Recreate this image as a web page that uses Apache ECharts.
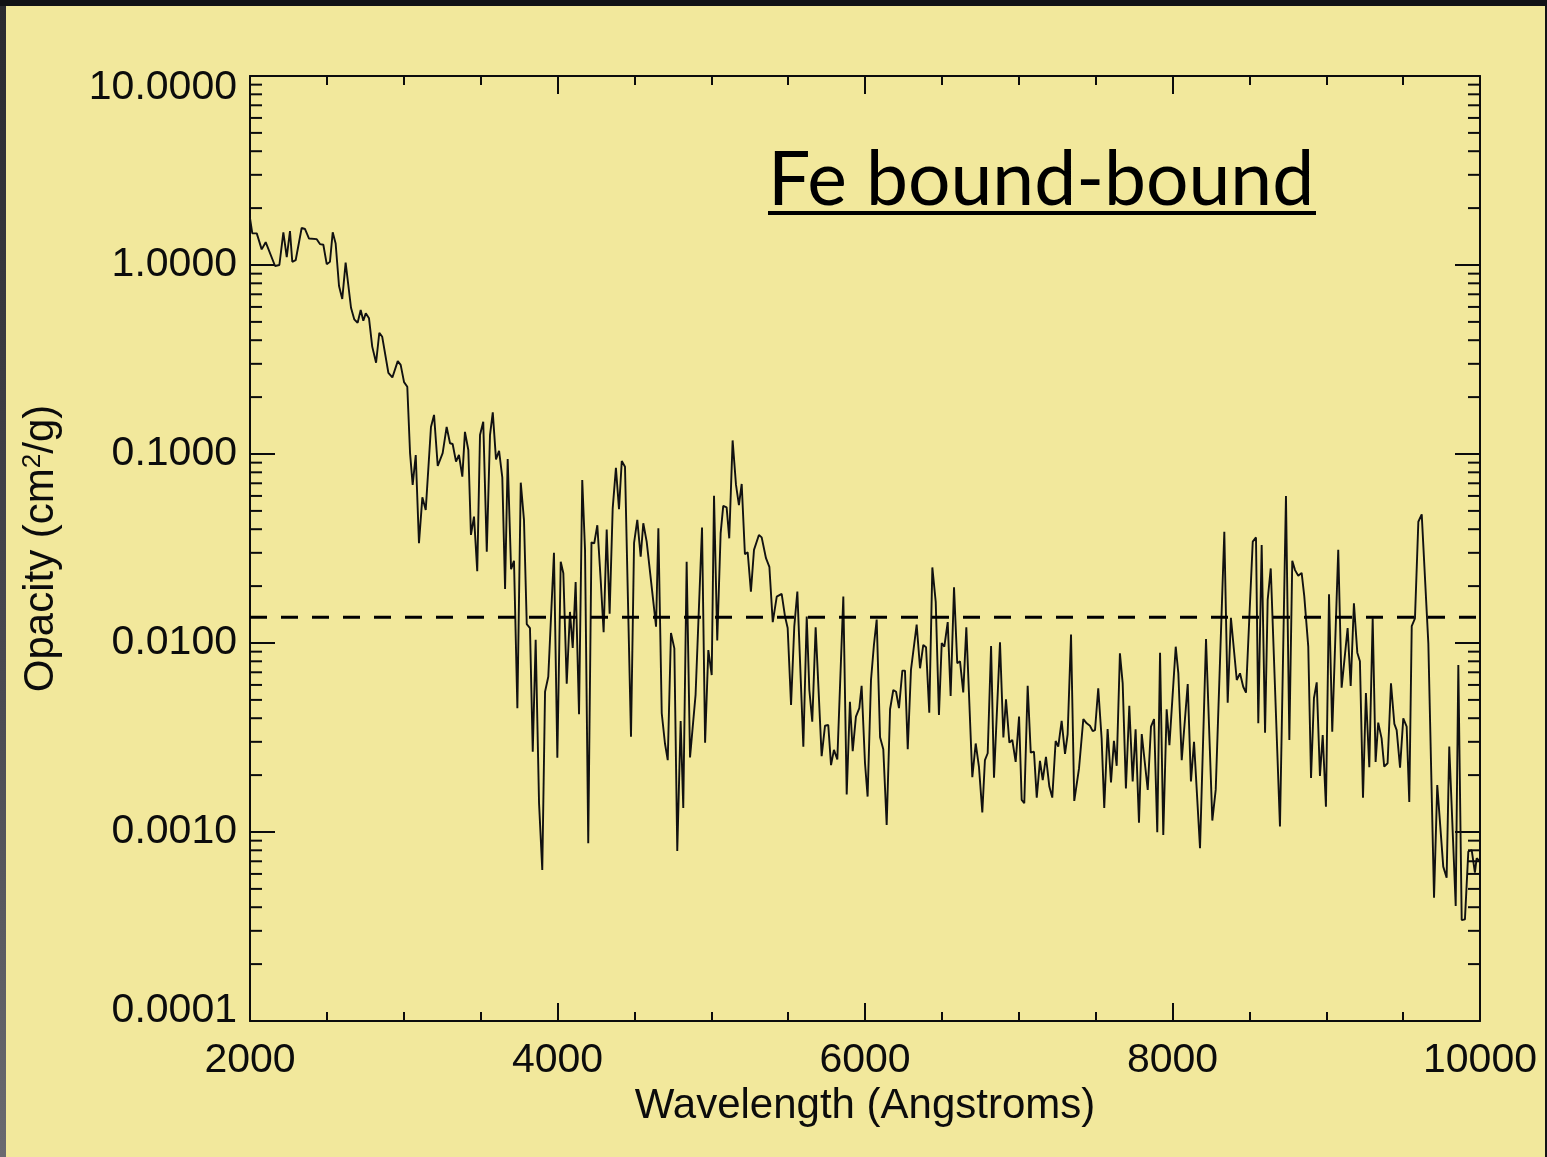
<!DOCTYPE html>
<html>
<head>
<meta charset="utf-8">
<title>Fe bound-bound opacity</title>
<script src="https://cdn.jsdelivr.net/npm/echarts@6/dist/echarts.min.js"></script>
<style>
  html, body { margin: 0; padding: 0; width: 1547px; height: 1157px; overflow: hidden; background: #121216; }
  #edge { position: absolute; left: 0; top: 6px; width: 6px; height: 1151px; background: linear-gradient(#2a2a30, #4a4a52 60%, #6a6a70); }
  #chart { position: absolute; left: 6px; top: 6px; width: 1539px; height: 1151px; background: #F2E89C; }
</style>
</head>
<body>
<div id="edge"></div>
<div id="chart"></div>
<script>
// Wavelength grid (Angstroms)
const wavelength = [
  2000, 2015, 2044, 2076, 2102, 2163, 2191, 2217, 2239, 2260, 2275, 2297, 2336, 2358, 2384, 2434, 2455, 2477, 2499, 2520,
  2538, 2557, 2579, 2600, 2622, 2657, 2678, 2700, 2720, 2737, 2753, 2774, 2795, 2820, 2841, 2860, 2900, 2926, 2939, 2961,
  2980, 3002, 3023, 3041, 3058, 3078, 3099, 3121, 3143, 3177, 3197, 3221, 3253, 3279, 3301, 3318, 3340, 3359, 3381, 3398,
  3420, 3437, 3457, 3478, 3496, 3517, 3540, 3561, 3579, 3600, 3620, 3641, 3659, 3676, 3698, 3717, 3739, 3761, 3782, 3800,
  3821, 3839, 3858, 3880, 3901, 3919, 3940, 3977, 3999, 4021, 4038, 4060, 4081, 4099, 4118, 4140, 4161, 4179, 4200, 4221,
  4239, 4259, 4281, 4300, 4320, 4339, 4359, 4380, 4400, 4418, 4439, 4478, 4498, 4519, 4541, 4558, 4580, 4634, 4641, 4656,
  4678, 4699, 4717, 4738, 4760, 4779, 4801, 4818, 4840, 4862, 4898, 4940, 4960, 4981, 5003, 5018, 5039, 5061, 5078, 5100,
  5117, 5139, 5161, 5180, 5198, 5219, 5237, 5258, 5278, 5310, 5328, 5356, 5378, 5400, 5426, 5458, 5480, 5497, 5519, 5540,
  5560, 5599, 5621, 5638, 5657, 5679, 5718, 5740, 5761, 5779, 5798, 5820, 5859, 5881, 5902, 5920, 5941, 5963, 5978, 6000,
  6017, 6039, 6058, 6076, 6098, 6119, 6141, 6163, 6184, 6202, 6221, 6243, 6260, 6278, 6299, 6336, 6358, 6379, 6397, 6418,
  6438, 6460, 6481, 6499, 6516, 6538, 6557, 6579, 6600, 6618, 6639, 6659, 6698, 6720, 6741, 6763, 6780, 6798, 6820, 6839,
  6878, 6900, 6917, 6939, 6958, 6980, 7002, 7019, 7036, 7058, 7078, 7099, 7117, 7138, 7156, 7177, 7199, 7218, 7240, 7257,
  7279, 7301, 7318, 7340, 7361, 7392, 7420, 7442, 7463, 7481, 7496, 7517, 7539, 7556, 7578, 7600, 7619, 7637, 7658, 7676,
  7697, 7719, 7741, 7760, 7782, 7800, 7839, 7860, 7880, 7901, 7919, 7940, 7962, 7980, 8021, 8038, 8060, 8099, 8120, 8140,
  8179, 8218, 8259, 8281, 8337, 8359, 8380, 8418, 8439, 8460, 8478, 8499, 8522, 8543, 8558, 8580, 8602, 8619, 8639, 8699,
  8738, 8760, 8779, 8797, 8818, 8840, 8857, 8883, 8901, 8920, 8938, 8959, 8977, 8998, 9018, 9039, 9078, 9100, 9139, 9159,
  9180, 9202, 9219, 9239, 9258, 9280, 9302, 9321, 9338, 9360, 9377, 9399, 9421, 9443, 9458, 9480, 9501, 9523, 9540, 9556,
  9577, 9599, 9621, 9664, 9701, 9722, 9761, 9783, 9800, 9842, 9859, 9881, 9902, 9924, 9946, 9967, 9978, 10000
];

// Fe bound-bound opacity (cm^2/g) at each wavelength
const opacity = [
  1.77, 1.47, 1.47, 1.21, 1.32, 0.988, 1.00, 1.49, 1.10, 1.51, 1.04, 1.06, 1.57, 1.55, 1.38, 1.37, 1.29, 1.28, 1.01, 1.04,
  1.49, 1.30, 0.774, 0.661, 1.03, 0.594, 0.516, 0.495, 0.578, 0.507, 0.555, 0.522, 0.370, 0.304, 0.438, 0.417, 0.269, 0.254, 0.260, 0.310,
  0.296, 0.240, 0.227, 0.101, 0.0686, 0.0988, 0.0337, 0.0590, 0.0506, 0.139, 0.161, 0.0864, 0.101, 0.139, 0.114, 0.113, 0.0911, 0.0988, 0.0759, 0.131,
  0.105, 0.0373, 0.0466, 0.0240, 0.126, 0.148, 0.0304, 0.126, 0.166, 0.0937, 0.104, 0.0753, 0.0193, 0.0941, 0.0246, 0.0272, 0.00452, 0.0705, 0.0448, 0.0126,
  0.0120, 0.00266, 0.0104, 0.00142, 0.000629, 0.00552, 0.00663, 0.0300, 0.00247, 0.0269, 0.0234, 0.00609, 0.0146, 0.00941, 0.0210, 0.00420, 0.0728, 0.0311, 0.000871, 0.0341,
  0.0337, 0.0420, 0.0215, 0.0114, 0.0398, 0.0143, 0.0516, 0.0846, 0.0510, 0.0918, 0.0857, 0.00319, 0.0339, 0.0448, 0.0286, 0.0430, 0.0344, 0.0138, 0.0122, 0.0405,
  0.00425, 0.00294, 0.00240, 0.0113, 0.00937, 0.000793, 0.00387, 0.00134, 0.0269, 0.00248, 0.00531, 0.0408, 0.00297, 0.00918, 0.00677, 0.0602, 0.0103, 0.0380, 0.0531, 0.0522,
  0.0358, 0.118, 0.0686, 0.0537, 0.0694, 0.0295, 0.0302, 0.0187, 0.0311, 0.0373, 0.0362, 0.0281, 0.0253, 0.0129, 0.0176, 0.0182, 0.0138, 0.0120, 0.00470, 0.0122,
  0.0187, 0.00283, 0.0138, 0.00564, 0.00383, 0.0121, 0.00252, 0.00365, 0.00368, 0.00226, 0.00272, 0.00242, 0.0176, 0.00158, 0.00489, 0.00268, 0.00408, 0.00452, 0.00594, 0.00231,
  0.00154, 0.00637, 0.00976, 0.0133, 0.00317, 0.00274, 0.00109, 0.00446, 0.00564, 0.00552, 0.00452, 0.00714, 0.00714, 0.00274, 0.00720, 0.0125, 0.00735, 0.00976, 0.00949, 0.00428,
  0.0251, 0.0165, 0.00416, 0.0100, 0.00956, 0.0129, 0.00524, 0.0197, 0.00781, 0.00800, 0.00548, 0.0121, 0.00195, 0.00294, 0.00222, 0.00127, 0.00240, 0.00261, 0.00964, 0.00194,
  0.0101, 0.00316, 0.00504, 0.00297, 0.00307, 0.00235, 0.00408, 0.00148, 0.00142, 0.00594, 0.00263, 0.00266, 0.00152, 0.00238, 0.00188, 0.00250, 0.00174, 0.00152, 0.00303, 0.00283,
  0.00387, 0.00259, 0.00329, 0.0111, 0.00146, 0.00217, 0.00396, 0.00376, 0.00365, 0.00342, 0.00346, 0.00576, 0.00313, 0.00134, 0.00351, 0.00183, 0.00304, 0.00224, 0.00882, 0.00612,
  0.00170, 0.00466, 0.00185, 0.00349, 0.00112, 0.00330, 0.00167, 0.00361, 0.00396, 0.000996, 0.00889, 0.000964, 0.00446, 0.00288, 0.00956, 0.00691, 0.00240, 0.00607, 0.00185, 0.00300,
  0.000820, 0.0105, 0.00115, 0.00167, 0.0388, 0.00483, 0.0136, 0.00637, 0.00691, 0.00587, 0.00546, 0.0132, 0.0344, 0.0362, 0.00376, 0.0330, 0.00335, 0.0169, 0.0248, 0.00107,
  0.0600, 0.00307, 0.0272, 0.0243, 0.0227, 0.0235, 0.0177, 0.00956, 0.00193, 0.00510, 0.00619, 0.00198, 0.00326, 0.00136, 0.0181, 0.00339, 0.0311, 0.00580, 0.0120, 0.00592,
  0.0162, 0.00889, 0.00800, 0.00152, 0.00544, 0.00220, 0.0135, 0.00235, 0.00379, 0.00313, 0.00222, 0.00231, 0.00612, 0.00373, 0.00346, 0.00219, 0.00399, 0.00361, 0.00144, 0.0123,
  0.0135, 0.0438, 0.0479, 0.00996, 0.000449, 0.00177, 0.000656, 0.000573, 0.00283, 0.000406, 0.00765, 0.000342, 0.000345, 0.000787, 0.000803, 0.000609, 0.000726, 0.000700
];

// Mean opacity level drawn as the dashed reference line
const meanOpacity = 0.0137;

// Axis ranges and tick settings
const xRange = [2000, 10000];
const xStep = 2000;
const yRange = [0.0001, 10];
const decadeStarts = [0.0001, 0.001, 0.01, 0.1, 1];
const minorMultipliers = [2, 3, 4, 5, 6, 7, 8, 9];
const minorTickValues = [];
decadeStarts.forEach(d => minorMultipliers.forEach(m => minorTickValues.push(d * m)));

const series = wavelength.map((w, i) => [w, opacity[i]]);

const INK = '#0c0c0c';
const FONT = '"Liberation Sans", Arial, Helvetica, sans-serif';

const chart = echarts.init(document.getElementById('chart'), null, { renderer: 'canvas' });

// Opacity tick labels with four decimals; the end labels sit inside the frame
function yLabel(v) {
  const s = v.toFixed(4);
  if (v > 9.9) return '{top|' + s + '}';
  if (v < 0.000101) return '{bot|' + s + '}';
  return s;
}

const labelBase = { fontSize: 41, fontFamily: FONT, color: INK };

chart.setOption({
  animation: false,
  backgroundColor: 'transparent',
  grid: { left: 244, top: 70, width: 1230, height: 945, containLabel: false },
  xAxis: [
    {
      type: 'value', min: xRange[0], max: xRange[1], interval: xStep, position: 'bottom',
      axisLine: { show: true, onZero: false, lineStyle: { color: INK, width: 2 } },
      axisTick: { show: true, inside: true, length: 18, lineStyle: { color: INK, width: 2 } },
      minorTick: { show: true, splitNumber: 4, length: 9, lineStyle: { color: INK, width: 2 } },
      splitLine: { show: false },
      axisLabel: Object.assign({ margin: 19, formatter: v => String(v) }, labelBase),
      name: 'Wavelength (Angstroms)', nameLocation: 'middle', nameGap: 63,
      nameTextStyle: { fontSize: 42, fontFamily: FONT, color: INK }
    },
    {
      type: 'value', min: xRange[0], max: xRange[1], interval: xStep, position: 'top',
      axisLine: { show: true, onZero: false, lineStyle: { color: INK, width: 2 } },
      axisTick: { show: true, inside: true, length: 18, lineStyle: { color: INK, width: 2 } },
      minorTick: { show: true, splitNumber: 4, length: 9, lineStyle: { color: INK, width: 2 } },
      splitLine: { show: false },
      axisLabel: { show: false }
    }
  ],
  yAxis: [
    {
      type: 'log', logBase: 10, min: yRange[0], max: yRange[1], position: 'left',
      axisLine: { show: true, onZero: false, lineStyle: { color: INK, width: 2 } },
      axisTick: { show: true, inside: true, length: 25, lineStyle: { color: INK, width: 2 } },
      minorTick: { show: false },
      splitLine: { show: false },
      axisLabel: Object.assign({
        margin: 13, formatter: yLabel,
        rich: {
          top: { fontSize: 41, fontFamily: FONT, color: INK, padding: [24, 0, 0, 0] },
          bot: { fontSize: 41, fontFamily: FONT, color: INK, padding: [0, 0, 20, 0] }
        }
      }, labelBase),
      name: 'Opacity (cm{sup|2}/g)', nameLocation: 'middle', nameGap: 188,
      nameTextStyle: {
        fontSize: 42, fontFamily: FONT, color: INK,
        rich: { sup: { fontSize: 26, fontFamily: FONT, color: INK, verticalAlign: 'top', padding: [0, 0, 14, 0] } }
      }
    },
    {
      type: 'log', logBase: 10, min: yRange[0], max: yRange[1], position: 'right',
      axisLine: { show: true, onZero: false, lineStyle: { color: INK, width: 2 } },
      axisTick: { show: true, inside: true, length: 25, lineStyle: { color: INK, width: 2 } },
      splitLine: { show: false },
      axisLabel: { show: false }
    }
  ],
  graphic: [
    {
      type: 'text', left: 762, top: 137, z: 10,
      style: { text: 'Fe bound-bound', font: '75px Lato, "Open Sans", sans-serif', fill: '#000' }
    },
    {
      type: 'rect', left: 762, top: 205, z: 10,
      shape: { width: 548, height: 4 }, style: { fill: '#000' }
    }
  ],
  series: [
    {
      name: 'opacity', type: 'line', data: series, xAxisIndex: 0, yAxisIndex: 0,
      showSymbol: false, symbol: 'none', clip: true, z: 3,
      lineStyle: { color: '#111', width: 1.9 }
    },
    {
      name: 'mean', type: 'line', xAxisIndex: 0, yAxisIndex: 0,
      data: [[xRange[0], meanOpacity], [xRange[1], meanOpacity]],
      showSymbol: false, symbol: 'none', z: 4,
      lineStyle: { color: '#000', width: 3, type: [17, 14] }
    },
    {
      name: 'minor ticks', type: 'custom', xAxisIndex: 0, yAxisIndex: 0, silent: true, z: 5,
      data: minorTickValues.map(v => [xRange[0], v]),
      renderItem: function (params, api) {
        const y = api.coord([xRange[0], api.value(1)])[1];
        const cs = params.coordSys;
        const st = { stroke: INK, lineWidth: 2 };
        return {
          type: 'group',
          children: [
            { type: 'line', shape: { x1: cs.x, y1: y, x2: cs.x + 12, y2: y }, style: st },
            { type: 'line', shape: { x1: cs.x + cs.width - 12, y1: y, x2: cs.x + cs.width, y2: y }, style: st }
          ]
        };
      }
    }
  ]
});
</script>
</body>
</html>
